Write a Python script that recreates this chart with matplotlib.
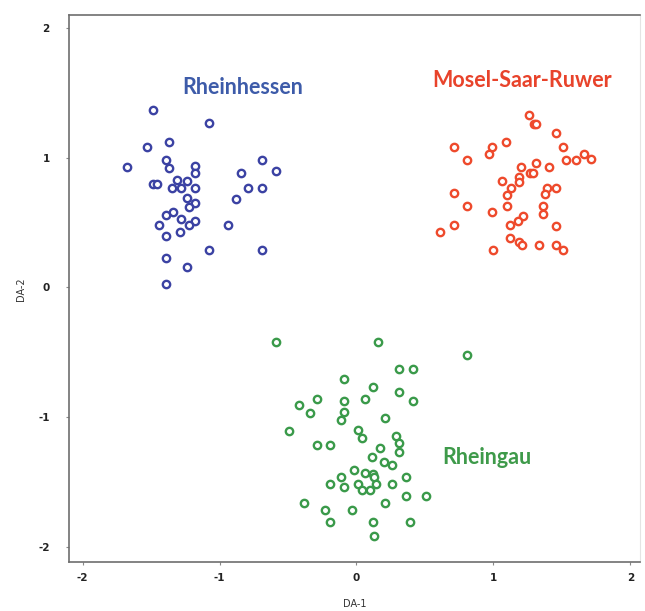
import numpy as np
import matplotlib.pyplot as plt

plt.rcParams['axes.unicode_minus']=False

## discriminant scores
rh_x=[-1.49,-1.08,-1.37,-1.53,-1.39,-1.37,-1.68,-1.18,-1.18,-0.69,-0.59,-0.84,-1.49,-1.46,-1.31,-1.24,
      -1.35,-1.28,-1.18,-0.79,-0.69,-1.24,-0.88,-1.18,-1.22,-1.34,-1.39,-1.28,-1.18,-1.44,-1.22,-1.29,
      -1.39,-0.94,-1.39,-1.08,-0.69,-1.24,-1.39]
rh_y=[1.37,1.27,1.12,1.08,0.98,0.92,0.93,0.94,0.88,0.98,0.90,0.88,0.80,0.80,0.83,0.82,
      0.77,0.77,0.77,0.77,0.77,0.69,0.68,0.65,0.62,0.58,0.56,0.53,0.51,0.48,0.48,0.43,
      0.40,0.48,0.23,0.29,0.29,0.16,0.03]

msr_x=[1.26,1.30,1.31,1.46,0.71,0.99,0.97,1.09,1.51,1.66,1.71,1.53,1.60,0.81,1.20,1.31,1.41,1.27,1.29,
       1.19,1.06,1.19,1.13,1.39,1.46,1.38,1.10,0.71,1.36,1.36,0.81,1.10,0.99,1.22,1.18,1.12,0.71,0.61,
       1.46,1.12,1.19,1.21,1.33,1.46,1.51,1.00]
msr_y=[1.33,1.26,1.26,1.19,1.08,1.08,1.03,1.12,1.08,1.03,0.99,0.98,0.98,0.98,0.93,0.96,0.93,0.88,0.88,
       0.85,0.82,0.81,0.77,0.77,0.77,0.72,0.71,0.73,0.63,0.57,0.63,0.63,0.58,0.55,0.51,0.48,0.48,0.43,
       0.47,0.38,0.35,0.33,0.33,0.33,0.29,0.29]

rg_x=[-0.59,0.16,0.81,0.31,0.41,-0.09,0.12,0.31,-0.29,-0.09,0.06,0.41,-0.42,-0.34,-0.09,-0.11,0.21,
      -0.49,0.01,0.04,0.29,0.31,0.31,-0.29,-0.19,0.17,0.11,0.20,0.26,-0.02,0.06,0.12,0.13,-0.11,0.36,
      -0.19,0.01,0.14,0.26,-0.09,0.04,0.10,0.36,0.51,-0.38,0.21,-0.23,-0.03,-0.19,0.12,0.39,0.13]
rg_y=[-0.42,-0.42,-0.52,-0.63,-0.63,-0.71,-0.77,-0.81,-0.86,-0.88,-0.86,-0.88,-0.91,-0.97,-0.96,-1.02,-1.01,
      -1.11,-1.10,-1.16,-1.15,-1.20,-1.27,-1.22,-1.22,-1.24,-1.31,-1.35,-1.37,-1.41,-1.43,-1.44,-1.46,-1.46,-1.46,
      -1.52,-1.52,-1.52,-1.52,-1.54,-1.56,-1.56,-1.61,-1.61,-1.66,-1.66,-1.72,-1.72,-1.81,-1.81,-1.81,-1.92]

groups=["Rheinhessen","Mosel-Saar-Ruwer","Rheingau"]
label_pos=[(-0.83,1.54),(1.21,1.60),(0.95,-1.31)]
ticks=[-2,-1,0,1,2]

colors=["#3b42a3","#ee4a2c","#3a9a4a"]
text_colors=["#3d5ba9","#e8432b","#3e9a4a"]

fig=plt.figure(figsize=(6.45,6.11),dpi=100)
ax=fig.add_axes([0.107,0.080,0.885,0.895])

data=[(rh_x,rh_y),(msr_x,msr_y),(rg_x,rg_y)]
for i in range(3):
    ax.scatter(data[i][0],data[i][1],s=28,facecolors='white',edgecolors=colors[i],linewidths=1.7,zorder=3)
    ax.text(label_pos[i][0],label_pos[i][1],groups[i],color=text_colors[i],fontsize=15.5,
            fontweight='bold',family='Lato',ha='center',va='center')

ax.set_xlim(-2.10,2.07)
ax.set_ylim(-2.12,2.10)
ax.set_xticks(ticks)
ax.set_yticks(ticks)
ax.tick_params(labelsize=7.5,length=2,color='#888888',labelcolor='#222222')
ax.tick_params(axis='y',pad=12)
ax.tick_params(axis='x',pad=6)
for t in ax.get_xticklabels()+ax.get_yticklabels():
    t.set_fontweight('bold')
ax.set_xlabel("DA-1",fontsize=7,color='#333333',labelpad=11)
ax.set_ylabel("DA-2",fontsize=7,color='#333333',labelpad=9)

for s in ['left','bottom','top']:
    ax.spines[s].set_color('#6e6e6e')
    ax.spines[s].set_linewidth(1.2)
ax.spines['right'].set_color('#e4e4e4')

plt.savefig("out.png",dpi=100)
